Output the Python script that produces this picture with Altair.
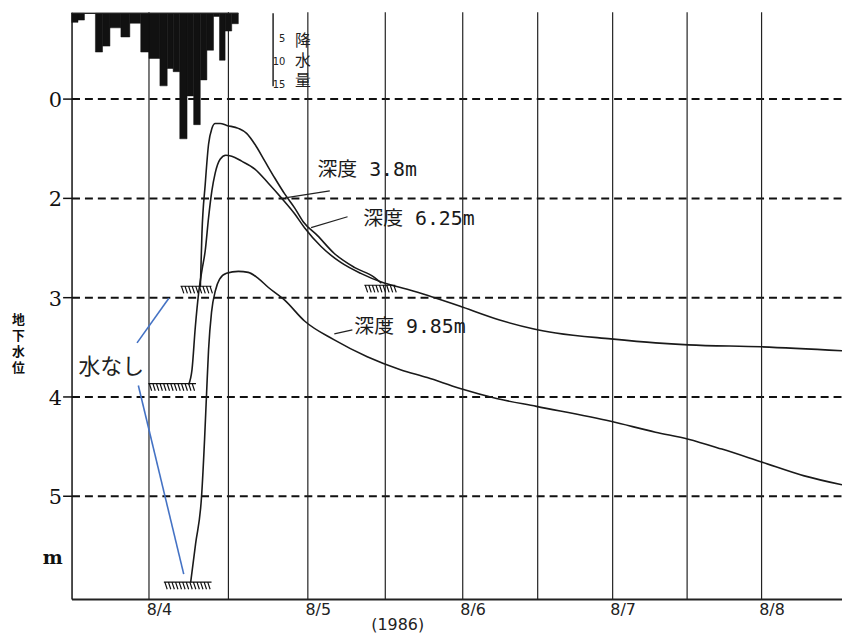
import altair as alt
import pandas as pd

# ---------------- data ----------------
# x values: hours after 1986-08-04 00:00 ; levels: position on the drawn level axis
h_38 = [7.76, 8.0, 8.5, 9.0, 9.5, 10.0, 10.75, 11.75, 13.5, 14.75, 16.0, 17.5, 19.0,
        20.5, 22.0, 23.3, 25.5, 28.1, 31.2, 34.3, 35.4]
l_38 = [2.90, 2.36, 1.86, 1.46, 1.30, 1.25, 1.25, 1.27, 1.30, 1.35, 1.46, 1.63, 1.80,
        1.96, 2.10, 2.24, 2.38, 2.56, 2.70, 2.80, 2.86]

h_625 = [6.0, 6.5, 7.0, 7.5, 8.0, 8.5, 9.0, 9.5, 10.0, 10.75, 11.6, 12.5, 14.0, 16.0,
         18.0, 20.0, 22.0, 23.5, 26.05, 29.1, 32.2, 35.5, 39.4, 42.5, 47.5, 53.9, 59.4,
         62.9, 71.7, 78.9, 84.2, 96.0, 109.0]
l_625 = [3.88, 3.73, 3.30, 2.96, 2.73, 2.53, 2.20, 1.93, 1.75, 1.61, 1.57, 1.58, 1.63, 1.71,
         1.85, 2.00, 2.16, 2.30, 2.49, 2.65, 2.76, 2.85, 2.92, 2.98, 3.09, 3.23, 3.32,
         3.36, 3.42, 3.46, 3.48, 3.50, 3.54]

h_985 = [6.3, 7.05, 7.95, 8.4, 8.7, 9.0, 9.45, 10.05, 10.65, 11.7, 13.5, 15.0, 16.5,
         18.0, 20.5, 23.5, 28.1, 33.2, 38.35, 42.5, 47.6, 53.4, 59.8, 71.7, 78.9, 84.2,
         89.6, 96.0, 102.9, 109.0]
l_985 = [5.87, 5.48, 5.00, 4.43, 3.97, 3.53, 3.15, 2.93, 2.82, 2.76, 2.74, 2.75, 2.81,
         2.90, 3.03, 3.24, 3.43, 3.60, 3.73, 3.81, 3.92, 4.02, 4.10, 4.25, 4.36, 4.43,
         4.53, 4.66, 4.80, 4.89]

# hourly rainfall (mm)
rain_start = [-13.2, -11.0, -8.3, -7.2, -6.05, -4.35, -2.97, -1.28, 0.0, 1.65, 2.75, 3.65,
              4.65, 5.75, 6.75, 7.75, 8.75, 9.75, 10.65, 11.5, 12.5]
rain_end = [-11.0, -10.0, -7.2, -6.05, -4.35, -2.97, -1.28, 0.0, 1.65, 2.75, 3.65, 4.65,
            5.75, 6.75, 7.75, 8.75, 9.75, 10.65, 11.5, 12.5, 13.5]
rain_mm = [2.0, 1.5, 8.5, 7.2, 3.2, 5.2, 2.2, 8.5, 9.9, 15.9, 12.1, 12.8, 27.5, 18.1, 24.4,
           14.6, 8.1, 0.7, 10.3, 3.9, 2.3]
rain_ticks = [5, 10, 15]

# "no water" (dry) markers
dry_h = [7.1, 3.5, 5.85, 35.15]
dry_l = [2.89, 3.87, 5.87, 2.88]
dry_well = ["3.8m", "6.25m", "9.85m", "3.8m"]

# depth labels and their leader lines
lab_text = ["深度 3.8m", "深度 6.25m", "深度 9.85m"]
lab_h = [25.5, 32.6, 31.2]
lab_l = [1.72, 2.21, 3.30]
lead_h1 = [20.55, 24.5, 28.1]
lead_l1 = [2.00, 2.30, 3.37]
lead_h2 = [27.4, 30.15, 30.9]
lead_l2 = [1.93, 2.19, 3.33]

# "水なし" note with blue pointers
nashi_h, nashi_l = -5.85, 3.70
blue_h1 = [-1.85, -1.65]
blue_l1 = [3.46, 3.89]
blue_h2 = [3.0, 5.25]
blue_l2 = [3.01, 5.79]

grid_hours = [0, 12, 24, 36, 48, 60, 72, 84, 96]
day_hours = [0, 24, 48, 72, 96]
level_ticks = [1, 2, 3, 4, 5]

# ---------------- tables ----------------
curves = pd.concat([
    pd.DataFrame({"h": h_38, "lv": l_38, "well": "3.8m"}),
    pd.DataFrame({"h": h_625, "lv": l_625, "well": "6.25m"}),
    pd.DataFrame({"h": h_985, "lv": l_985, "well": "9.85m"}),
])
rain_df = pd.DataFrame({"s": rain_start, "e": rain_end, "mm": rain_mm})
rain_base = pd.DataFrame({"s": [rain_start[0]], "e": [rain_end[-1]], "mm": [0]})
dry_df = pd.DataFrame({"h": dry_h, "lv": dry_l, "well": dry_well})
lab_df = pd.DataFrame({"t": lab_text, "h": lab_h, "lv": lab_l})
lead_df = pd.DataFrame({"h1": lead_h1, "l1": lead_l1, "h2": lead_h2, "l2": lead_l2})
blue_df = pd.DataFrame({"h1": blue_h1, "l1": blue_l1, "h2": blue_h2, "l2": blue_l2})
grid_df = pd.DataFrame({"h": grid_hours})
rt_df = pd.DataFrame({"mm": rain_ticks, "h": [20.6] * 3})
one = pd.DataFrame({"a": [0]})

# ---------------- scales / axes ----------------
xs = alt.Scale(domain=[-12, 0, 24, 48, 72, 96, 109],
               range=[0, 78, 238, 394, 545, 695, 776], zero=False, nice=False)
x_axis = alt.Axis(values=day_hours, labelExpr="'8/' + (4 + datum.value / 24)",
                  ticks=False, tickSize=0, grid=False, domainColor="#222", domainWidth=2,
                  labelFont="DejaVu Sans", labelFontSize=16, labelColor="#222",
                  labelBaseline="top", labelPadding=3, labelOffset=10,
                  title="(1986)", titleFont="DejaVu Sans", titleFontSize=16,
                  titleFontWeight="normal", titleColor="#222", titleX=328, titleY=18,
                  titleBaseline="top", titleAnchor="start", titleAlign="center")
ys = alt.Scale(domain=[0.13, 6.04], reverse=True, zero=False, nice=False)
y_axis = alt.Axis(values=level_ticks, labelExpr="datum.value == 1 ? '0' : datum.label",
                  labelFont="DejaVu Serif", labelFontSize=21, labelColor="#111",
                  labelPadding=1, labelOffset=2, tickSize=9, tickWidth=1.5, tickColor="#111",
                  domainColor="#111", domainWidth=1.5, grid=True, gridDash=[8, 5],
                  gridColor="#111", gridWidth=2,
                  title=["地", "下", "水", "位"], titleAngle=0, titleFont="Noto Sans CJK JP",
                  titleFontSize=13, titleFontWeight="bold", titleColor="#111",
                  titleLineHeight=16, titleX=-54, titleY=304, titleAlign="center",
                  titleBaseline="top", titleAnchor="start")
ry = alt.Scale(domain=[-0.22, 128.26], reverse=True, zero=False, nice=False)


def X(f):
    return alt.X(f, type="quantitative", scale=xs, axis=x_axis)


def YW(f):
    return alt.Y(f, type="quantitative", scale=ys, axis=y_axis)


def YR(f):
    return alt.Y(f, type="quantitative", scale=ry, axis=None)


def hatch(half):
    parts = [f"M{-half:.3f},0L{half:.3f},0"]
    x = -half + 0.04
    while x < half - 0.02:
        parts.append(f"M{x:.3f},0L{x + 0.1:.3f},0.3")
        x += 0.15
    return "".join(parts)


FONT_JP = "Noto Sans CJK JP"
FONT_LAB = "DejaVu Sans Mono, Noto Sans CJK JP"

# ---------------- water-level layers ----------------
vlines = alt.Chart(grid_df).mark_rule(color="#222", strokeWidth=1.2).encode(x=X("h"))

lines = alt.Chart(curves).mark_line(color="#1a1a1a", strokeWidth=1.6,
                                    interpolate="monotone").encode(
    x=X("h"), y=YW("lv"), detail="well:N")

dry = alt.Chart(dry_df).mark_point(filled=False, stroke="#111", strokeWidth=1.2,
                                   size=2304, opacity=1).encode(
    x=X("h"), y=YW("lv"),
    shape=alt.Shape("well:N", legend=None,
                    scale=alt.Scale(domain=["3.8m", "6.25m", "9.85m"],
                                    range=[hatch(0.65), hatch(1.0), hatch(1.0)])))

leaders = alt.Chart(lead_df).mark_rule(color="#222", strokeWidth=1.2).encode(
    x=X("h1"), x2="h2", y=YW("l1"), y2="l2")

blue = alt.Chart(blue_df).mark_rule(color="#4472C4", strokeWidth=1.6).encode(
    x=X("h1"), x2="h2", y=YW("l1"), y2="l2")

labels = alt.Chart(lab_df).mark_text(font=FONT_LAB, fontSize=20, color="#1a1a1a",
                                     align="left", baseline="middle").encode(
    x=X("h"), y=YW("lv"), text="t:N")

nashi = alt.Chart(one).mark_text(text="水なし", font=FONT_JP, fontSize=22, color="#222",
                                 align="center", baseline="middle").encode(
    x=alt.X(datum=nashi_h, scale=xs, axis=x_axis, type="quantitative"),
    y=alt.Y(datum=nashi_l, scale=ys, axis=y_axis, type="quantitative"))

m_unit = alt.Chart(one).mark_text(text="m", font="DejaVu Serif", fontSize=19,
                                  fontWeight="bold", color="#111",
                                  align="center", baseline="middle").encode(
    x=alt.X(datum=-14.9, scale=xs, axis=x_axis, type="quantitative"),
    y=alt.Y(datum=5.63, scale=ys, axis=y_axis, type="quantitative"))

water = alt.layer(vlines, lines, dry, leaders, blue, labels, nashi, m_unit)

# ---------------- rainfall layers ----------------
bars = alt.Chart(rain_df).mark_bar(color="#111", stroke="#111", strokeWidth=0.5,
                                   clip=True).encode(
    x=X("s"), x2="e", y=YR("mm"), y2=alt.datum(0))

base = alt.Chart(rain_base).mark_rule(color="#222", strokeWidth=1.5, clip=True).encode(
    x=X("s"), x2="e", y=YR("mm"))

scalebar = alt.Chart(one).mark_rule(color="#222", strokeWidth=1.5).encode(
    x=alt.X(datum=18.75, scale=xs, axis=x_axis, type="quantitative"),
    y=alt.Y(datum=0, scale=ry, axis=None, type="quantitative"),
    y2=alt.datum(16))

scalelab = alt.Chart(rt_df).mark_text(font="DejaVu Sans", fontSize=10, color="#222",
                                      align="right", baseline="middle", dy=3).encode(
    x=X("h"), y=YR("mm"), text="mm:Q")

rain_title = alt.Chart(one).mark_text(text=["降", "水", "量"], font=FONT_JP, fontSize=16,
                                      lineHeight=20, align="center", baseline="top",
                                      color="#222").encode(
    x=alt.X(datum=23.25, scale=xs, axis=x_axis, type="quantitative"),
    y=alt.Y(datum=4.35, scale=ry, axis=None, type="quantitative"))

rain = alt.layer(bars, base, scalebar, scalelab, rain_title)

chart = alt.layer(water, rain).resolve_scale(y="independent").properties(
    width=776, height=591,
    autosize=alt.AutoSizeParams(type="none"),
    padding={"left": 64, "top": 2, "right": 0, "bottom": 34},
    background="white",
).configure_view(stroke=None)

chart.save("out.html", embed_options={"renderer": "svg", "actions": False})
